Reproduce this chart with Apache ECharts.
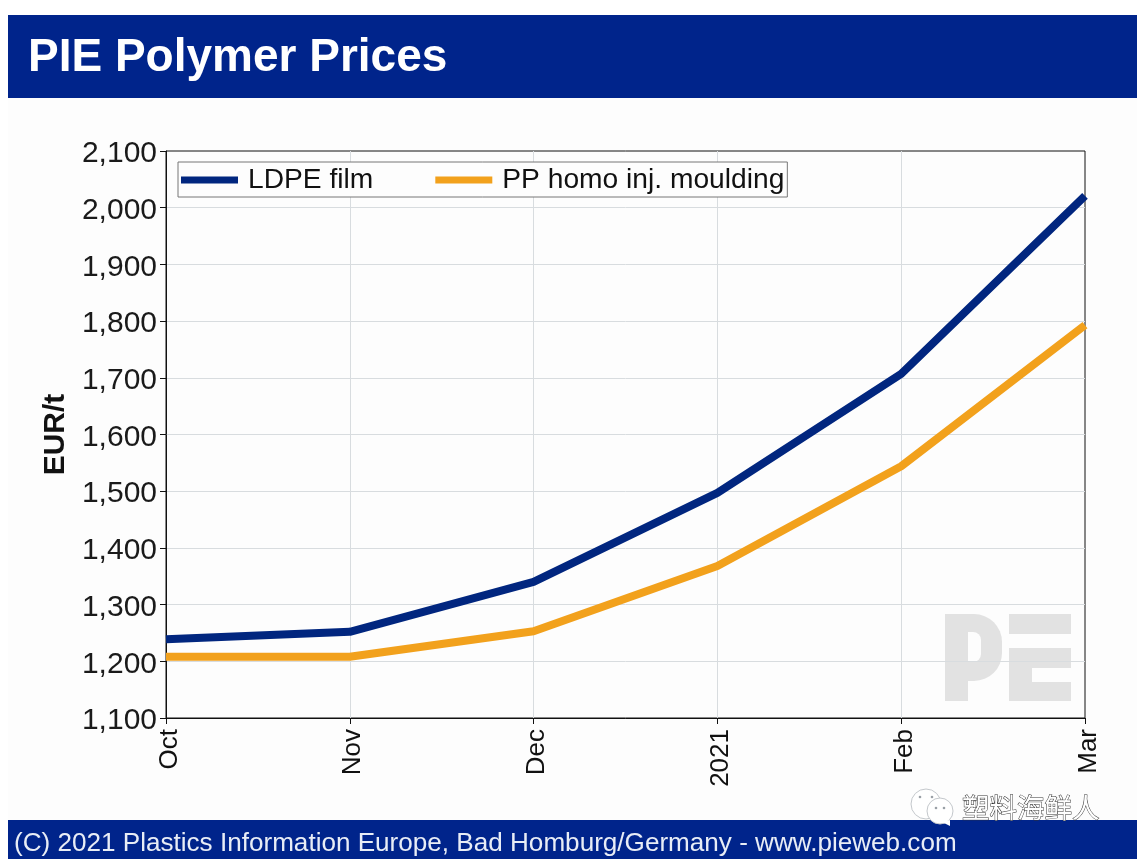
<!DOCTYPE html>
<html><head><meta charset="utf-8">
<style>html,body{margin:0;padding:0;background:#fff}#c{width:1137px;height:859px}</style>
<script src="https://cdn.jsdelivr.net/npm/echarts@6/dist/echarts.min.js"></script>
</head><body><div id="c"></div>
<script>
const months = ['Oct','Nov','Dec','2021','Feb','Mar'];
const ldpeFilm = [1239,1252,1340,1497,1707,2021];
const ppHomo = [1208,1208,1253,1368,1544,1793];
const titleText = 'PIE Polymer Prices';
const footerText = '(C) 2021 Plastics Information Europe, Bad Homburg/Germany - www.pieweb.com';
const watermarkText = '塑料海鲜人';
const yAxisName = 'EUR/t';
const FONT = '"Liberation Sans", Arial, sans-serif';
const NAVY = '#00248b', LINE_NAVY = '#01267f', ORANGE = '#f2a11c', LOGO = '#e2e2e2', PAPER = '#fdfdfd';

const rect = (x,y,width,height,fill,z,r) => ({type:'rect',shape:{x,y,width,height,r:r||0},style:{fill},z:z,silent:true});
const bubble = (cx,cy,r,z) => ({type:'circle',shape:{cx,cy,r},style:{fill:'#fff',stroke:'#c4c8cc',lineWidth:1},z});
const dot = (cx,cy,z) => ({type:'circle',shape:{cx,cy,r:1.3},style:{fill:'#9aa0a6'},z});

const chart = echarts.init(document.getElementById('c'),null,{renderer:'canvas'});
chart.setOption({
  animation:false,
  backgroundColor:PAPER,
  textStyle:{fontFamily:FONT},
  grid:{left:166,top:151,width:919,height:567,show:true,borderColor:'#111',borderWidth:1,backgroundColor:'transparent'},
  legend:{
    left:178,top:162,padding:[3,3,2,3],itemWidth:57,itemHeight:7,itemGap:62,icon:'rect',
    backgroundColor:PAPER,borderColor:'#777',borderWidth:1,borderRadius:0,
    textStyle:{fontFamily:FONT,fontSize:28.2,lineHeight:30,color:'#111',padding:[0,0,0,5]},
    data:['LDPE film','PP homo inj. moulding']
  },
  xAxis:{
    type:'category',boundaryGap:false,data:months,
    axisLine:{show:true,onZero:false,lineStyle:{color:'#111',width:1}},
    axisTick:{show:true,alignWithLabel:true,length:6,lineStyle:{color:'#111'}},
    axisLabel:{rotate:90,margin:11,showMinLabel:true,showMaxLabel:true,interval:0,
      formatter:v=>`{a|${v}}`,
      rich:{a:{fontSize:26,color:'#111',fontFamily:FONT,padding:[7,0,0,0]}}},
    splitLine:{show:true,showMinLine:false,showMaxLine:false,lineStyle:{color:'#d8dcdf',width:1}}
  },
  yAxis:{
    type:'value',min:1100,max:2100,interval:100,
    name:yAxisName,nameLocation:'middle',nameGap:92,nameRotate:90,
    nameTextStyle:{fontFamily:FONT,fontSize:30,fontWeight:'bold',color:'#111'},
    axisLine:{show:true,lineStyle:{color:'#111',width:1}},
    axisTick:{show:true,length:6,lineStyle:{color:'#111'}},
    axisLabel:{margin:9,
      formatter:v=>`{a|${v.toLocaleString('en-US')}}`,
      rich:{a:{fontSize:30,color:'#1a1a1a',fontFamily:FONT,padding:[6,0,0,0]}}},
    splitLine:{show:true,showMinLine:false,showMaxLine:false,lineStyle:{color:'#d8dcdf',width:1}}
  },
  series:[
    {name:'LDPE film',type:'line',data:ldpeFilm,symbol:'none',z:3,lineStyle:{color:LINE_NAVY,width:8},itemStyle:{color:LINE_NAVY}},
    {name:'PP homo inj. moulding',type:'line',data:ppHomo,symbol:'none',z:4,lineStyle:{color:ORANGE,width:8},itemStyle:{color:ORANGE}}
  ],
  graphic:[
    rect(0,0,1137,15,'#fff',-10), rect(0,0,8,859,'#fff',-10),
    rect(8,15,1129,83,NAVY,10),
    rect(8,820,1129,39,NAVY,10),
    {type:'text',x:28,y:58,z:11,style:{text:titleText,font:'bold 46px '+FONT,fill:'#fff',verticalAlign:'middle'}},
    {type:'text',x:14,y:844,z:11,style:{text:footerText,font:'26.1px '+FONT,fill:'#e8edf6',verticalAlign:'middle'}},
    // PE logo behind the gridlines
    rect(945,614,57,67,LOGO,-3,[0,28,28,0]),
    rect(945,660,23,41,LOGO,-3),
    rect(968,632,13,30,PAPER,-2,[0,8,8,0]),
    rect(1009,614,62,20,LOGO,-3),
    rect(1009,648,62,20,LOGO,-3),
    rect(1009,668,23,14,LOGO,-3),
    rect(1009,682,62,19,LOGO,-3),
    // messaging-app icon and account name
    bubble(926,804,15,12), dot(920,797,13), dot(932,797,13),
    bubble(940,811,13,14), dot(936,808,15), dot(944,808,15),
    {type:'polygon',z:15,shape:{points:[[942,822],[950,820],[950,826]]},style:{fill:'#fff'}},
    {type:'text',x:962,y:808,z:16,style:{text:watermarkText,font:'27.5px "Noto Sans CJK SC"',fill:'#fff',stroke:'#333',lineWidth:1,verticalAlign:'middle'}}
  ]
});
</script></body></html>
